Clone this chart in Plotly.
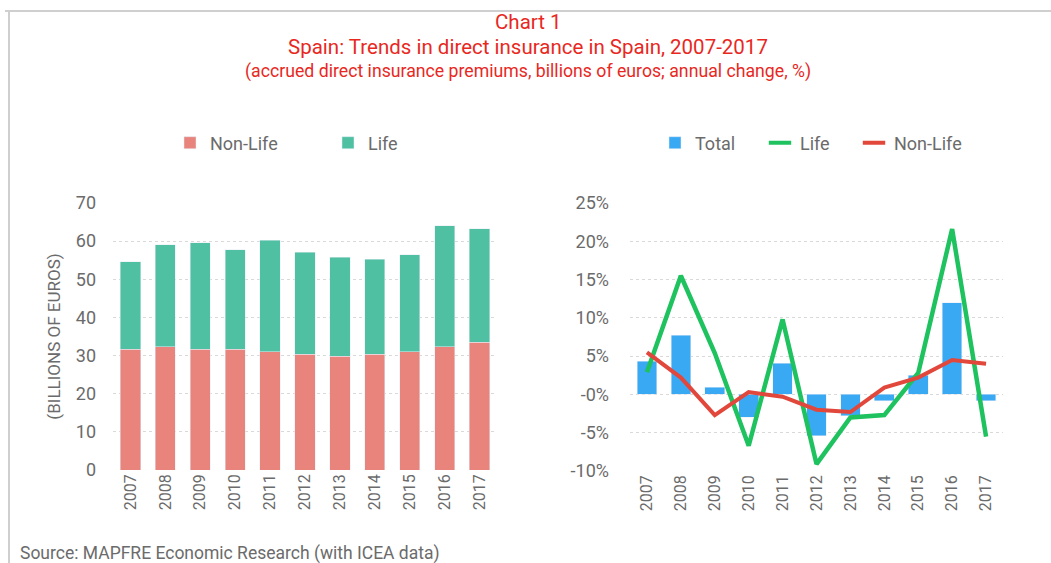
import plotly.graph_objects as go

years = ["2007", "2008", "2009", "2010", "2011", "2012", "2013", "2014", "2015", "2016", "2017"]
non_life_premiums = [31.7, 32.3, 31.7, 31.7, 31.0, 30.4, 29.8, 30.4, 31.0, 32.3, 33.5]
life_premiums = [22.9, 26.7, 27.9, 26.0, 29.2, 26.7, 26.0, 24.8, 25.4, 31.7, 29.8]

total_change = [4.35, 7.7, 0.96, -2.96, 4.1, -5.4, -2.8, -0.8, 2.5, 12.0, -0.8]
life_change = [2.9, 15.5, 5.4, -6.7, 9.8, -9.1, -3.0, -2.7, 2.8, 21.6, -5.5]
non_life_change = [5.5, 2.2, -2.7, 0.3, -0.3, -2.0, -2.3, 0.9, 2.2, 4.5, 4.0]

left_ticks = [0, 10, 20, 30, 40, 50, 60, 70]
right_ticks = [-10, -5, 0, 5, 10, 15, 20, 25]
right_ticktext = ["-10%", "-5%", "-0%", "5%", "10%", "15%", "20%", "25%"]

FONT = "Roboto"
GRAY = "#6b6b6b"
RED = "#e8281e"
W, H = 1051, 563


def px(x):
    return x / W


def py(y):
    return 1 - y / H


fig = go.Figure()
fig.add_trace(go.Bar(x=years, y=non_life_premiums, name="Non-Life", marker_color="#e8847c",
                     xaxis="x", yaxis="y", legend="legend"))
fig.add_trace(go.Bar(x=years, y=life_premiums, name="Life", marker_color="#4fc1a2",
                     xaxis="x", yaxis="y", legend="legend2"))
fig.add_trace(go.Bar(x=years, y=total_change, name="Total", marker_color="#3aa9f4",
                     xaxis="x2", yaxis="y2", legend="legend3"))
fig.add_trace(go.Scatter(x=years, y=life_change, name="Life", mode="lines",
                         line=dict(color="#1ec25e", width=4.5), xaxis="x2", yaxis="y2",
                         showlegend=False))
fig.add_trace(go.Scatter(x=years, y=non_life_change, name="Non-Life", mode="lines",
                         line=dict(color="#e2473b", width=4), xaxis="x2", yaxis="y2",
                         showlegend=False))
# legend keys for the two lines (short thick dash like the reference)
fig.add_trace(go.Scatter(x=[None], y=[None], name="Life", mode="markers",
                         marker=dict(symbol="line-ew", size=16, line=dict(color="#1ec25e", width=4)),
                         xaxis="x2", yaxis="y2", legend="legend4"))
fig.add_trace(go.Scatter(x=[None], y=[None], name="Non-Life", mode="markers",
                         marker=dict(symbol="line-ew", size=16, line=dict(color="#e2473b", width=4)),
                         xaxis="x2", yaxis="y2", legend="legend5"))

axis_common = dict(showline=False, zeroline=False, ticks="", automargin=False)
leg_common = dict(orientation="h", xanchor="left", yanchor="middle",
                  font=dict(size=18, color=GRAY, family=FONT), itemwidth=30,
                  bgcolor="rgba(0,0,0,0)", borderwidth=0)
LEG_Y = py(143)
fig.update_layout(
    width=W, height=H,
    margin=dict(l=0, r=0, t=0, b=0, pad=0, autoexpand=False),
    paper_bgcolor="white", plot_bgcolor="white",
    font=dict(family=FONT, color=GRAY),
    barmode="stack", bargap=0.42,
    showlegend=True,
    xaxis=dict(domain=[px(113), px(497)], anchor="y", type="category", tickangle=-90,
               tickfont=dict(size=16, color=GRAY), showgrid=False, **axis_common),
    yaxis=dict(domain=[py(470), py(203)], anchor="x", range=[0, 70], tickvals=left_ticks,
               tickfont=dict(size=18, color=GRAY), showgrid=True, gridcolor="#d9d9d9",
               griddash="dot", ticklabelstandoff=16,
               title=dict(text="(BILLIONS OF EUROS)", font=dict(size=17, color=GRAY), standoff=10),
               **axis_common),
    xaxis2=dict(domain=[px(630), px(1003)], anchor="y2", type="category", tickangle=-90,
                tickfont=dict(size=16, color=GRAY), showgrid=False, **axis_common),
    yaxis2=dict(domain=[py(471), py(203)], anchor="x2", range=[-10, 25], tickvals=right_ticks,
                ticktext=right_ticktext, tickfont=dict(size=18, color=GRAY), showgrid=True,
                gridcolor="#d9d9d9", griddash="dot", ticklabelstandoff=20, **axis_common),
    legend=dict(x=px(170), y=LEG_Y, **leg_common),
    legend2=dict(x=px(328), y=LEG_Y, **leg_common),
    legend3=dict(x=px(655), y=LEG_Y, **leg_common),
    legend4=dict(x=px(760), y=LEG_Y, **leg_common),
    legend5=dict(x=px(854), y=LEG_Y, **leg_common),
)

annots = [
    ("Chart 1", 22, 20.5),
    ("Spain: Trends in direct insurance in Spain, 2007-2017", 47, 20.5),
    ("(accrued direct insurance premiums, billions of euros; annual change, %)", 71, 17.7),
]
for txt, ypx, size in annots:
    fig.add_annotation(text=txt, x=px(528), y=py(ypx), xref="paper", yref="paper",
                       showarrow=False, xanchor="center", yanchor="middle",
                       font=dict(size=size, color=RED, family=FONT))
fig.add_annotation(text="Source: MAPFRE Economic Research (with ICEA data)", x=px(18),
                   y=py(553), xref="paper", yref="paper", showarrow=False,
                   xanchor="left", yanchor="middle", font=dict(size=17.5, color=GRAY, family=FONT))

# frame border (top and left)
fig.add_shape(type="line", xref="paper", yref="paper", x0=px(5), x1=1.0, y0=py(11),
              y1=py(11), line=dict(color="#cfcfcf", width=2))
fig.add_shape(type="line", xref="paper", yref="paper", x0=px(9), x1=px(9), y0=0,
              y1=py(11), line=dict(color="#cfcfcf", width=2))

fig.write_html("out.html", config={"displayModeBar": False},
               post_script="document.body.style.margin='0';document.body.style.overflow='hidden';")
